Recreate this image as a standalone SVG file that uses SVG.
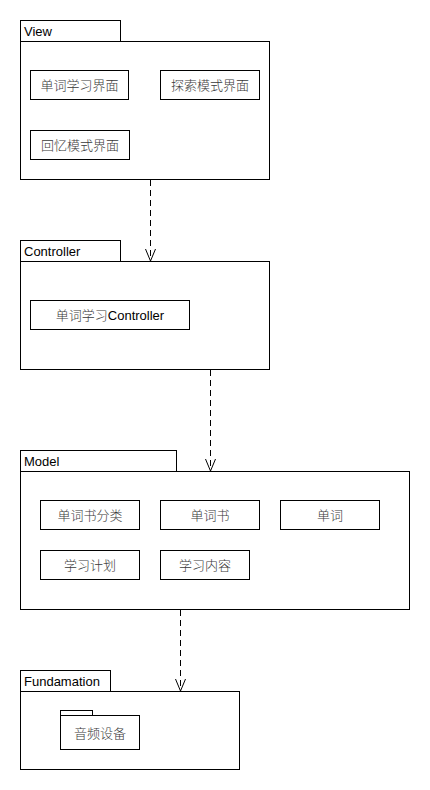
<svg xmlns="http://www.w3.org/2000/svg" width="430" height="790" viewBox="0 0 430 790">
<defs>
<style>
.pk{fill:#fff;stroke:#000;stroke-width:1}
.bx{fill:#fff;stroke:#000;stroke-width:1}
.tl{font-family:"Liberation Sans","Noto Sans CJK SC",sans-serif;font-size:13px;fill:#000}
.lb{font-family:"Liberation Sans","Noto Sans CJK SC",sans-serif;font-size:13px;fill:#3a3a3a;text-anchor:middle;font-weight:300}
.en{fill:#000;font-weight:400}
.cn{stroke:#000;stroke-width:1;stroke-dasharray:6 4;fill:none}
.ah{stroke:#000;stroke-width:1;fill:none}
</style>
</defs>
<rect width="430" height="790" fill="#fff"/>
<g id="View">
<rect class="pk" x="20.5" y="20.5" width="100" height="21"/>
<rect class="pk" x="20.5" y="41.5" width="249" height="138"/>
<text class="tl" x="24" y="36">View</text>
</g>
<g id="view-word-study">
<rect class="bx" x="30.5" y="70.5" width="98" height="29"/>
<text class="lb" x="79.5" y="89.5">单词学习界面</text>
</g>
<g id="view-explore">
<rect class="bx" x="160.5" y="70.5" width="99" height="29"/>
<text class="lb" x="210" y="89.5">探索模式界面</text>
</g>
<g id="view-recall">
<rect class="bx" x="30.5" y="130.5" width="99" height="29"/>
<text class="lb" x="80" y="149.5">回忆模式界面</text>
</g>
<g id="Controller">
<rect class="pk" x="20.5" y="240.5" width="100" height="21"/>
<rect class="pk" x="20.5" y="261.5" width="249" height="108"/>
<text class="tl" x="24" y="256">Controller</text>
</g>
<g id="controller-word-study">
<rect class="bx" x="30.5" y="300.5" width="159" height="29"/>
<text class="lb" x="110" y="319.5">单词学习<tspan class="en">Controller</tspan></text>
</g>
<g id="Model">
<rect class="pk" x="20.5" y="450.5" width="156" height="21"/>
<rect class="pk" x="20.5" y="471.5" width="389" height="138"/>
<text class="tl" x="24" y="466">Model</text>
</g>
<g id="model-category">
<rect class="bx" x="40.5" y="500.5" width="99" height="29"/>
<text class="lb" x="90" y="519.5">单词书分类</text>
</g>
<g id="model-book">
<rect class="bx" x="160.5" y="500.5" width="99" height="29"/>
<text class="lb" x="210" y="519.5">单词书</text>
</g>
<g id="model-word">
<rect class="bx" x="280.5" y="500.5" width="99" height="29"/>
<text class="lb" x="330" y="519.5">单词</text>
</g>
<g id="model-plan">
<rect class="bx" x="40.5" y="550.5" width="99" height="29"/>
<text class="lb" x="90" y="569.5">学习计划</text>
</g>
<g id="model-content">
<rect class="bx" x="160.5" y="550.5" width="89" height="29"/>
<text class="lb" x="205" y="569.5">学习内容</text>
</g>
<g id="Fundamation">
<rect class="pk" x="20.5" y="670.5" width="90" height="21"/>
<rect class="pk" x="20.5" y="691.5" width="219" height="78"/>
<text class="tl" x="24" y="686">Fundamation</text>
</g>
<g id="audio-device">
<rect class="pk" x="60.5" y="710.5" width="32" height="5"/>
<rect class="pk" x="60.5" y="715.5" width="79" height="34"/>
<text class="lb" x="100" y="738">音频设备</text>
</g>
<g id="connectors">
<line class="cn" x1="150.5" y1="180" x2="150.5" y2="260"/>
<polyline class="ah" points="145.5,249 150.5,261 155.5,249"/>
<line class="cn" x1="210.5" y1="370" x2="210.5" y2="470"/>
<polyline class="ah" points="205.5,459 210.5,471 215.5,459"/>
<line class="cn" x1="180.5" y1="610" x2="180.5" y2="690"/>
<polyline class="ah" points="175.5,679 180.5,691 185.5,679"/>
</g>
</svg>
